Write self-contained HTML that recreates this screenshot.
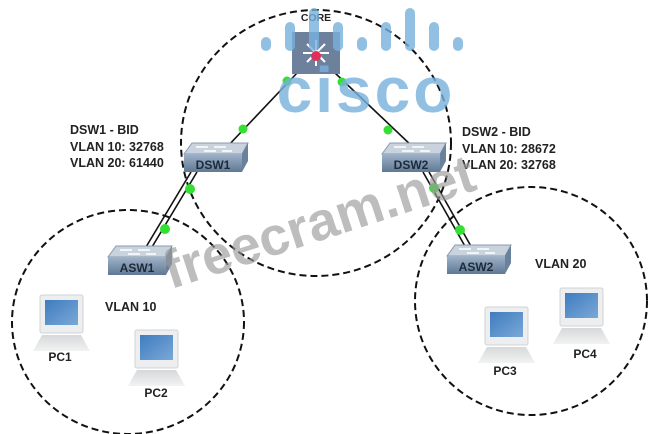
<!DOCTYPE html>
<html><head><meta charset="utf-8"><style>
html,body{margin:0;padding:0;background:#fff;}
svg{display:block;}
text{font-family:"Liberation Sans",sans-serif;}
</style></head><body>
<svg width="655" height="434" viewBox="0 0 655 434" xmlns="http://www.w3.org/2000/svg">
<defs>
<linearGradient id="sw" x1="0" y1="0" x2="0" y2="1"><stop offset="0" stop-color="#9fb3c9"/><stop offset="1" stop-color="#5f7894"/></linearGradient>
<linearGradient id="scr" x1="0" y1="0" x2="1" y2="1"><stop offset="0" stop-color="#3f7cc0"/><stop offset="1" stop-color="#7aa8d6"/></linearGradient>
<linearGradient id="base" x1="0" y1="0" x2="0" y2="1"><stop offset="0" stop-color="#d6d8da"/><stop offset="1" stop-color="#f2f2f2"/></linearGradient>
<g id="pc">
<rect x="0" y="0" width="43" height="38" rx="2" fill="#eceef0" stroke="#d0d3d6"/>
<rect x="5" y="5" width="33" height="25" fill="url(#scr)"/>
<polygon points="2,40 41,40 50,56 -7,56" fill="url(#base)"/>
</g>
<g id="sw1">
<polygon points="8,0 64,0 58,11 0,11" fill="#c9d3dd" stroke="#8a9bb0"/>
<path d="M12,4 h12 M30,4 h12 M20,8 h12 M38,8 h10" stroke="#fff" stroke-width="1.5"/>
<polygon points="64,0 64,18 58,29 58,11" fill="#6a819b"/>
<rect x="0" y="11" width="58" height="18" fill="url(#sw)"/>
</g>
</defs>

<g fill="none" stroke="#111" stroke-width="2" stroke-dasharray="7,4">
<ellipse cx="316" cy="143" rx="135" ry="133"/>
<ellipse cx="128" cy="322" rx="116" ry="112"/>
<ellipse cx="531" cy="301" rx="116" ry="114"/>
</g>

<g stroke="#111" stroke-width="1.6" fill="none">
<line x1="298" y1="72" x2="226" y2="148"/>
<line x1="334" y1="72" x2="414" y2="148"/>
<line x1="191" y1="172" x2="143" y2="252"/>
<line x1="197" y1="172" x2="149" y2="252"/>
<line x1="423" y1="172" x2="466" y2="248"/>
<line x1="429" y1="172" x2="472" y2="248"/>
</g>
<g fill="#33e033">
<circle cx="287" cy="81" r="4.5"/><circle cx="243" cy="129" r="4.5"/>
<circle cx="342" cy="82" r="4.5"/><circle cx="388" cy="130" r="4.5"/>
<circle cx="190" cy="189" r="5"/><circle cx="165" cy="229" r="5"/>
<circle cx="434" cy="188" r="5"/><circle cx="460" cy="230" r="5"/>
</g>

<text x="316" y="21" font-size="10.5" font-weight="bold" text-anchor="middle" fill="#222">CORE</text>
<rect x="292" y="32" width="48" height="42" fill="#6e819c"/>
<g stroke="#fff" stroke-width="2">
<line x1="316" y1="40" x2="316" y2="66"/><line x1="303" y1="53" x2="329" y2="53"/>
<line x1="307" y1="44" x2="325" y2="62"/><line x1="325" y1="44" x2="307" y2="62"/>
</g>
<circle cx="316" cy="56" r="5" fill="#e0305a"/>

<use href="#sw1" x="184" y="143"/>
<text x="213" y="169" font-size="12" font-weight="bold" text-anchor="middle" fill="#1d2a3a">DSW1</text>
<use href="#sw1" x="382" y="143"/>
<text x="411" y="169" font-size="12" font-weight="bold" text-anchor="middle" fill="#1d2a3a">DSW2</text>
<use href="#sw1" x="108" y="246"/>
<text x="137" y="272" font-size="12" font-weight="bold" text-anchor="middle" fill="#1d2a3a">ASW1</text>
<use href="#sw1" x="447" y="245"/>
<text x="476" y="271" font-size="12" font-weight="bold" text-anchor="middle" fill="#1d2a3a">ASW2</text>

<g font-size="12.5" font-weight="bold" fill="#222">
<text x="70" y="134">DSW1 - BID</text>
<text x="70" y="151">VLAN 10: 32768</text>
<text x="70" y="167">VLAN 20: 61440</text>
<text x="462" y="136">DSW2 - BID</text>
<text x="462" y="153">VLAN 10: 28672</text>
<text x="462" y="169">VLAN 20: 32768</text>
<text x="105" y="311">VLAN 10</text>
<text x="535" y="268">VLAN 20</text>
</g>

<use href="#pc" x="40" y="295"/>
<use href="#pc" x="135" y="330"/>
<use href="#pc" x="485" y="307"/>
<use href="#pc" x="560" y="288"/>
<g font-size="12" font-weight="bold" fill="#222" text-anchor="middle">
<text x="60" y="361">PC1</text>
<text x="156" y="397">PC2</text>
<text x="505" y="375">PC3</text>
<text x="585" y="358">PC4</text>
</g>

<g fill="#78b1dd" opacity="0.8">
<rect x="261" y="37" width="10" height="14" rx="5"/>
<rect x="285" y="22" width="10" height="29" rx="5"/>
<rect x="309" y="8" width="10" height="43" rx="5"/>
<rect x="333" y="22" width="10" height="29" rx="5"/>
<rect x="357" y="37" width="10" height="14" rx="5"/>
<rect x="381" y="22" width="10" height="29" rx="5"/>
<rect x="405" y="8" width="10" height="43" rx="5"/>
<rect x="429" y="22" width="10" height="29" rx="5"/>
<rect x="453" y="37" width="10" height="14" rx="5"/>
</g>
<text x="366" y="112" font-size="64" font-weight="bold" text-anchor="middle" fill="#78b1dd" opacity="0.8" letter-spacing="3">cisco</text>
<text x="320" y="240" font-size="54" font-weight="bold" text-anchor="middle" fill="#9a9a9a" opacity="0.65" transform="rotate(-18 320 225)">freecram.net</text>
</svg>
</body></html>
